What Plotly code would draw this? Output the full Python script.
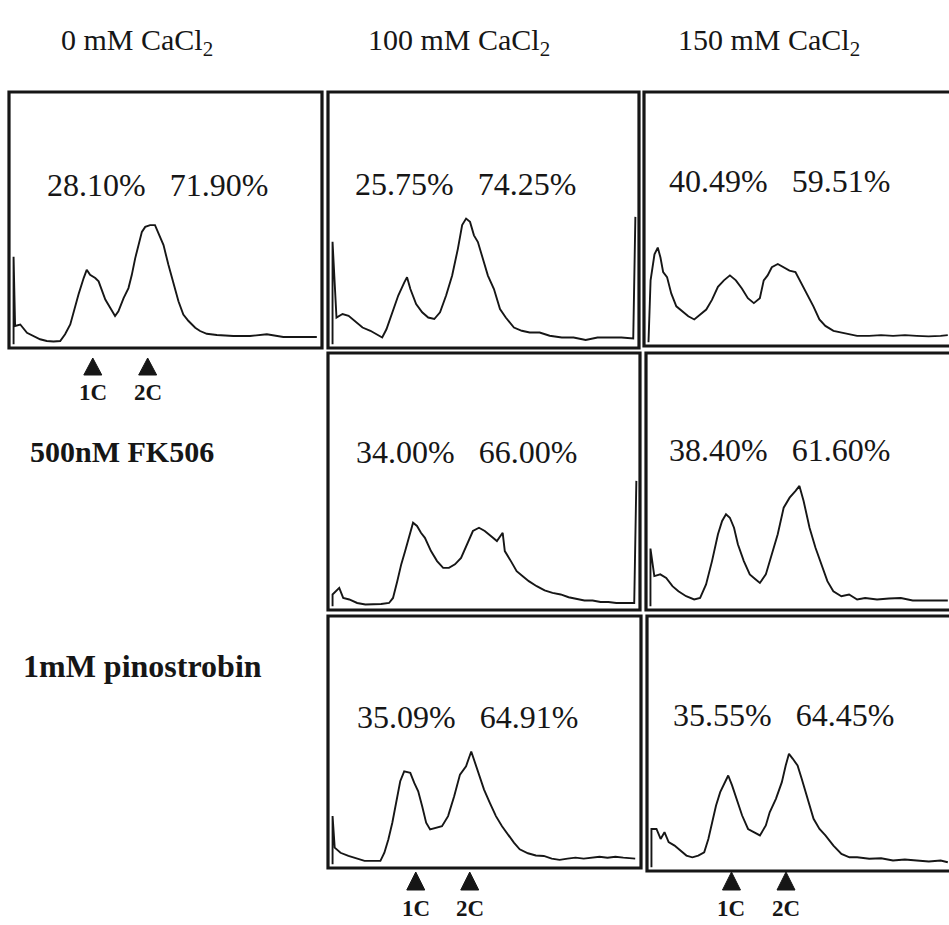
import plotly.graph_objects as go

W, H = 949, 925

# ---------------- text labels ----------------
col_titles = ["0 mM CaCl<sub>2</sub>", "100 mM CaCl<sub>2</sub>", "150 mM CaCl<sub>2</sub>"]
row_titles = ["500nM FK506", "1mM pinostrobin"]
ploidy_labels = ["1C", "2C"]

# ---------------- histogram data (channel %, relative count %) ----------------
# 0 mM CaCl2
ctrl0_x = [0, 0, 0.5, 2.2, 4.4, 6.6, 8.7, 10.9, 13.1, 15.3, 16.9, 18.6, 19.7, 21.3, 23.0, 24.0, 25.1,
           26.8, 27.9, 29.0, 30.1, 31.7, 33.3, 34.4, 36.1, 37.7, 38.8, 39.9, 41.0, 42.1, 43.2, 44.8,
           46.4, 47.5, 49.2, 50.8, 52.5, 54.1, 55.7, 57.4, 59.6, 61.2, 63.4, 66.7, 72.1, 77.6, 83.1,
           88.5, 94.0, 99.5]
ctrl0_y = [0, 35, 7.3, 7.9, 4.6, 3.3, 2.0, 1.3, 1.1, 1.3, 4.0, 7.9, 13.2, 19.9, 26.5, 29.8, 27.8,
           26.5, 25.2, 21.2, 17.9, 14.6, 11.3, 13.2, 18.5, 22.5, 27.8, 34.4, 39.7, 45.0, 47.0, 47.7,
           47.7, 44.4, 39.7, 31.8, 23.8, 17.2, 11.9, 9.3, 6.6, 5.3, 4.2, 3.7, 3.3, 3.3, 4.0,
           2.9, 2.9, 2.9]

# 100 mM CaCl2
ca100_x = [0, 0, 1.3, 3.3, 5.3, 7.2, 9.9, 12.5, 15.1, 16.4, 17.8, 19.7, 21.7, 23.7, 24.6, 25.7, 27.6,
           29.6, 31.6, 33.6, 35.5, 37.5, 39.5, 41.4, 42.8, 44.1, 45.4, 46.7, 48.0, 49.3, 51.3, 53.3,
           55.3, 57.2, 59.9, 62.5, 65.1, 68.4, 71.7, 75.7, 79.6, 83.6, 87.5, 91.4, 95.4, 99.3, 100]
ca100_y = [0, 41, 10.7, 12.1, 11.4, 9.4, 6.7, 5.4, 3.4, 2.7, 6.0, 12.8, 19.5, 24.8, 26.8, 22.1, 16.1,
           12.8, 10.7, 10.1, 12.8, 19.5, 27.5, 38.3, 47.7, 50.3, 49.0, 43.6, 40.9, 35.6, 27.5, 22.1,
           14.1, 10.7, 6.7, 5.4, 4.7, 4.7, 3.4, 2.7, 2.7, 1.7, 2.7, 2.7, 2.7, 2.3, 51]

# 150 mM CaCl2
ca150_x = [0, 0.7, 2.0, 3.1, 4.0, 4.9, 6.2, 7.6, 9.3, 11.3, 13.3, 15.3, 17.3, 19.3, 21.2, 23.2, 25.2,
           27.2, 29.2, 31.2, 33.2, 35.2, 37.2, 38.5, 39.8, 41.2, 43.2, 45.2, 47.1, 49.1, 51.1, 53.1,
           55.1, 57.1, 59.1, 61.8, 64.4, 67.1, 69.7, 73.7, 77.7, 81.7, 85.7, 89.6, 93.6, 97.6, 100]
ca150_y = [0, 25.0, 35.5, 38.2, 34.2, 28.3, 26.3, 19.7, 14.5, 12.5, 10.5, 9.2, 11.2, 13.2, 17.1, 22.4, 25.0,
           27.0, 25.0, 21.7, 17.8, 15.8, 17.8, 25.0, 27.0, 30.3, 31.6, 30.3, 28.9, 28.3, 23.7, 19.7,
           14.5, 9.2, 6.6, 4.6, 3.9, 3.3, 2.6, 2.6, 2.9, 2.6, 2.9, 2.6, 2.4, 2.6, 2.9]

# 500 nM FK506 + 100 mM CaCl2
fk100_x = [0, 0, 2.2, 3.5, 5.5, 8.1, 10.8, 13.4, 16.0, 18.6, 19.9, 21.3, 22.6, 23.9, 25.2, 26.5, 27.8,
           29.1, 30.4, 32.4, 34.4, 36.4, 38.3, 40.3, 42.3, 44.2, 46.2, 48.2, 50.1, 52.1, 54.1, 56.0,
           56.7, 58.7, 60.6, 62.6, 64.6, 67.2, 69.8, 72.4, 75.1, 77.7, 80.3, 82.9, 85.6, 88.2, 90.8,
           93.4, 96.1, 99.3, 100]
fk100_y = [0, 4.7, 7.3, 3.3, 2.7, 1.3, 0.7, 0.7, 0.9, 1.3, 3.3, 10.0, 16.7, 22.0, 27.3, 33.3, 32.0,
           29.3, 27.3, 22.0, 18.0, 15.3, 15.3, 16.7, 19.3, 24.7, 30.0, 31.3, 30.0, 28.0, 26.0, 29.3,
           22.0, 18.0, 14.0, 12.0, 10.0, 8.0, 6.3, 5.3, 4.7, 3.6, 3.1, 2.3, 2.3, 1.7, 1.7,
           1.3, 1.3, 1.3, 50]

# 500 nM FK506 + 150 mM CaCl2
fk150_x = [0, 0, 1.3, 3.3, 5.3, 7.4, 9.4, 12.0, 14.7, 16.7, 18.7, 20.7, 22.7, 24.1, 25.4, 26.7, 28.1,
           29.4, 31.4, 33.4, 35.4, 36.8, 38.8, 40.8, 42.8, 44.8, 46.8, 48.8, 50.1, 51.5, 53.5, 55.5,
           57.5, 59.5, 61.5, 64.2, 66.8, 69.5, 72.2, 76.2, 80.2, 84.2, 88.2, 92.2, 96.3, 100]
fk150_y = [0, 23, 12.0, 12.7, 11.3, 8.0, 6.0, 4.0, 2.7, 3.3, 8.7, 18.0, 28.7, 34.0, 36.7, 35.3, 31.3,
           24.7, 18.0, 12.7, 10.7, 9.3, 12.7, 20.7, 28.7, 39.3, 43.3, 46.0, 48.0, 42.0, 31.3, 23.3,
           16.7, 10.0, 6.0, 4.0, 4.7, 2.7, 3.3, 2.7, 3.1, 3.3, 2.3, 2.3, 2.3, 2.3]

# 1 mM pinostrobin + 100 mM CaCl2
pino100_x = [0, 0, 0.7, 2.6, 5.2, 7.8, 10.5, 13.1, 15.7, 17.0, 18.3, 19.6, 20.9, 22.2, 23.5, 25.5, 26.8,
             28.1, 29.4, 30.7, 32.0, 34.0, 35.9, 37.9, 39.9, 41.8, 43.8, 45.5, 46.4, 47.7, 49.7, 51.6,
             53.6, 55.6, 57.5, 59.5, 61.4, 64.1, 66.7, 69.3, 71.9, 74.5, 77.1, 79.7, 82.4, 85.0, 87.6,
             90.2, 92.8, 95.4, 99.3]
pino100_y = [0, 19.6, 6.8, 4.7, 3.4, 2.3, 1.4, 1.4, 1.4, 4.7, 10.1, 16.9, 25.0, 33.8, 37.8, 37.2, 33.1,
             29.7, 23.6, 16.9, 14.2, 14.9, 15.5, 19.6, 27.7, 36.5, 39.9, 45.9, 42.6, 37.2, 30.4, 25.0,
             19.6, 15.5, 12.2, 8.8, 6.1, 4.5, 3.6, 3.4, 2.3, 1.8, 2.3, 2.7, 2.3, 2.7, 3.1,
             2.7, 3.1, 2.7, 2.3]

# 1 mM pinostrobin + 150 mM CaCl2
pino150_x = [0, 0, 1.7, 3.1, 4.4, 5.8, 7.8, 9.8, 11.8, 13.8, 15.8, 17.8, 19.2, 20.5, 21.8, 23.2, 24.5,
             25.9, 27.2, 28.6, 30.6, 32.6, 34.6, 36.6, 38.6, 39.9, 42.0, 44.0, 45.3, 46.4, 47.7, 49.3,
             50.7, 52.7, 54.7, 56.7, 58.7, 61.4, 64.1, 66.8, 69.4, 73.5, 77.5, 81.5, 85.5, 89.5, 93.6,
             97.6, 100]
pino150_y = [0, 15.4, 15.4, 11.4, 14.1, 10.1, 8.7, 6.7, 4.7, 4.0, 4.7, 6.0, 11.4, 18.1, 24.8, 30.2, 33.6,
             36.9, 32.9, 27.5, 20.8, 15.4, 14.1, 12.8, 16.8, 22.1, 27.5, 34.2, 40.9, 45.6, 43.6, 40.9,
             35.6, 27.5, 19.5, 15.4, 12.8, 8.7, 5.4, 4.0, 4.0, 3.4, 3.6, 2.7, 3.1, 2.7, 2.3,
             2.7, 2.0]

# percentage of 1C / 2C cells
pct_ctrl0 = ["28.10%", "71.90%"]
pct_ca100 = ["25.75%", "74.25%"]
pct_ca150 = ["40.49%", "59.51%"]
pct_fk100 = ["34.00%", "66.00%"]
pct_fk150 = ["38.40%", "61.60%"]
pct_pino100 = ["35.09%", "64.91%"]
pct_pino150 = ["35.55%", "64.45%"]

# channel position of 1C / 2C markers
marks_ctrl0 = [26, 44]
marks_pino100 = [27.3, 45]
marks_pino150 = [27, 45.4]

# ---------------- layout (pixel boxes) ----------------
panels = [
    dict(x=ctrl0_x, y=ctrl0_y, pct=pct_ctrl0, box=(9, 92, 322, 348), txt=(157, 185),
         marks=marks_ctrl0, marks_y=(358, 375, 392), open_right=False),
    dict(x=ca100_x, y=ca100_y, pct=pct_ca100, box=(328, 92, 639, 348), txt=(465, 184),
         marks=None, open_right=False),
    dict(x=ca150_x, y=ca150_y, pct=pct_ca150, box=(644, 92, 949, 346), txt=(779, 181),
         marks=None, open_right=True),
    dict(x=fk100_x, y=fk100_y, pct=pct_fk100, box=(328, 353, 640, 610), txt=(466, 452),
         marks=None, open_right=False),
    dict(x=fk150_x, y=fk150_y, pct=pct_fk150, box=(646, 353, 949, 610), txt=(779, 450),
         marks=None, open_right=True),
    dict(x=pino100_x, y=pino100_y, pct=pct_pino100, box=(328, 616, 641, 868), txt=(467, 717),
         marks=marks_pino100, marks_y=(872, 890, 908), open_right=False),
    dict(x=pino150_x, y=pino150_y, pct=pct_pino150, box=(647, 616, 949, 871), txt=(783, 715),
         marks=marks_pino150, marks_y=(872, 890, 908), open_right=True),
]

SERIF = "Liberation Serif"
INK = "#161616"

fig = go.Figure()
shapes = []
annotations = []
layout_axes = {}

for i, p in enumerate(panels, start=1):
    x0, y0, x1, y1 = p["box"]
    xr = [-1.5, 100.4] if p["open_right"] else [-1.5, 101.2]
    yr = [-1.5, 101]
    xname = "x" if i == 1 else f"x{i}"
    yname = "y" if i == 1 else f"y{i}"
    xa = "xaxis" if i == 1 else f"xaxis{i}"
    ya = "yaxis" if i == 1 else f"yaxis{i}"
    layout_axes[xa] = dict(domain=[x0 / W, x1 / W], range=xr, visible=False, anchor=yname, fixedrange=True)
    layout_axes[ya] = dict(domain=[1 - y1 / H, 1 - y0 / H], range=yr, visible=False, anchor=xname, fixedrange=True)

    fig.add_trace(go.Scatter(x=p["x"], y=p["y"], mode="lines", xaxis=xname, yaxis=yname,
                             line=dict(color=INK, width=1.9), hoverinfo="skip", showlegend=False))

    # frame
    xr_px = (x1 + 12) if p["open_right"] else x1
    shapes.append(dict(type="rect", xref="paper", yref="paper",
                       x0=x0 / W, x1=xr_px / W, y0=1 - y1 / H, y1=1 - y0 / H,
                       line=dict(color=INK, width=3.2)))

    # percentages
    tx, ty = p["txt"]
    annotations.append(dict(x=tx / W, y=1 - ty / H, xref="paper", yref="paper",
                            text=p["pct"][0] + "&nbsp;&nbsp;&nbsp;" + p["pct"][1], showarrow=False,
                            font=dict(family=SERIF, size=32, color=INK),
                            xanchor="center", yanchor="middle"))

    # 1C / 2C markers (triangles + labels)
    if p["marks"] is not None:
        t_top, t_bot, lab_y = p["marks_y"]
        hw = 9 * (xr[1] - xr[0]) / (x1 - x0)
        for lab, mx in zip(ploidy_labels, p["marks"]):
            shapes.append(dict(type="path", xref=xname, yref="paper",
                               path=(f"M {mx - hw},{1 - t_bot / H} L {mx + hw},{1 - t_bot / H} "
                                     f"L {mx},{1 - t_top / H} Z"),
                               fillcolor=INK, line=dict(color=INK, width=1)))
            annotations.append(dict(x=mx, y=1 - lab_y / H, xref=xname, yref="paper",
                                    text=f"<b>{lab}</b>", showarrow=False,
                                    font=dict(family=SERIF, size=23, color=INK),
                                    xanchor="center", yanchor="middle"))

# column headers
for t, cx in zip(col_titles, [137, 459, 769]):
    annotations.append(dict(x=cx / W, y=1 - 42 / H, xref="paper", yref="paper", text=t,
                            showarrow=False, font=dict(family=SERIF, size=30, color=INK),
                            xanchor="center", yanchor="middle"))

# row labels
for t, cx, cy, fs in zip(row_titles, [122, 142], [451, 666], [30, 32]):
    annotations.append(dict(x=cx / W, y=1 - cy / H, xref="paper", yref="paper", text=f"<b>{t}</b>",
                            showarrow=False, font=dict(family=SERIF, size=fs, color=INK),
                            xanchor="center", yanchor="middle"))

fig.update_layout(width=W, height=H, margin=dict(l=0, r=0, t=0, b=0),
                  paper_bgcolor="white", plot_bgcolor="white",
                  shapes=shapes, annotations=annotations, showlegend=False, **layout_axes)

fig.write_html("out.html", config={"displayModeBar": False},
               post_script="document.body.style.margin='0';document.body.style.overflow='hidden';")
